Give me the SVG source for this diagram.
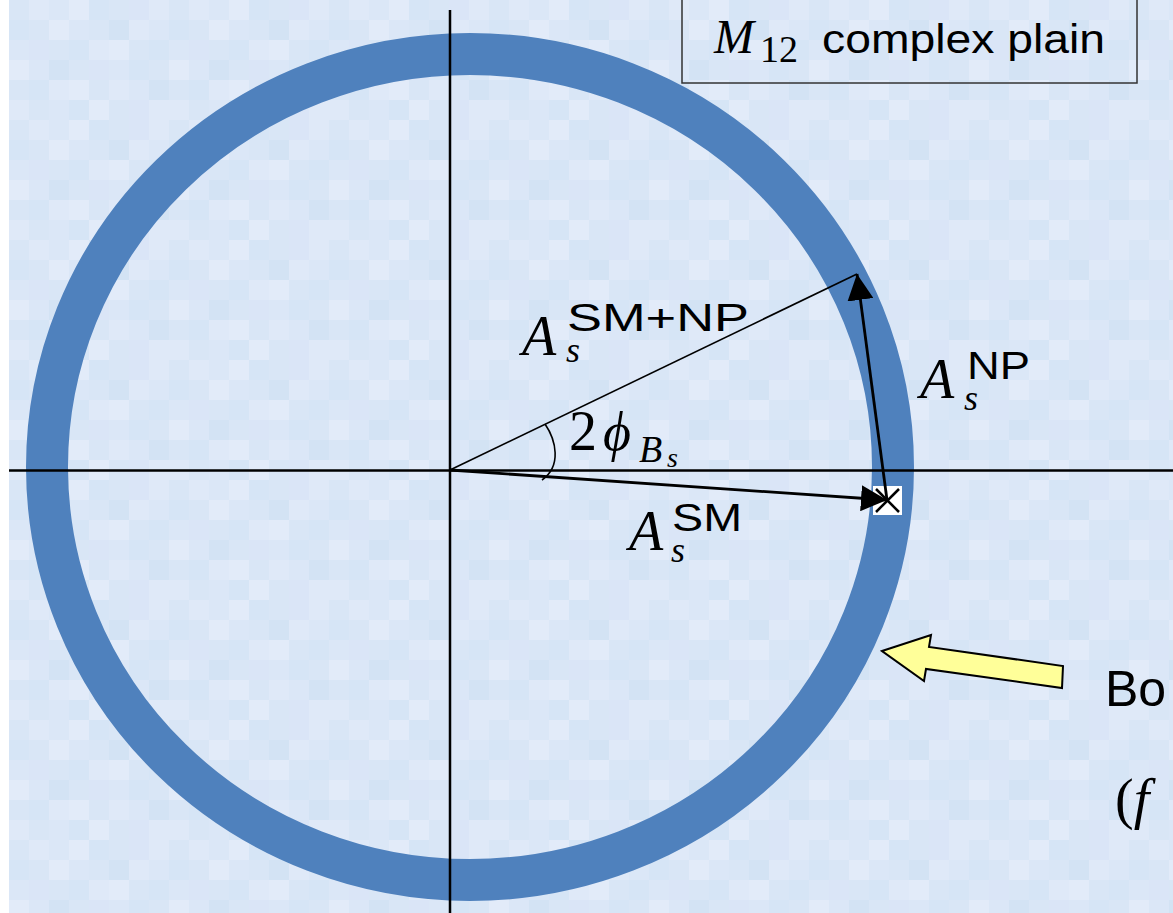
<svg xmlns="http://www.w3.org/2000/svg" width="1173" height="913" viewBox="0 0 1173 913">
<style>
.math{font-family:"Liberation Serif","DejaVu Serif",serif;font-style:italic;fill:#000}
.rm{font-family:"Liberation Serif","DejaVu Serif",serif;fill:#000}
.sf{font-family:"Liberation Sans","DejaVu Sans",sans-serif;font-style:normal;fill:#000}
.axis{stroke:#000;stroke-width:2.5;fill:none}
.thin{stroke:#000;stroke-width:1.6;fill:none}
.vec{stroke:#000;stroke-width:2.8;fill:none}
.b{fill:#dbe7f7}.c{fill:#dfe9f8}.d{fill:#d6e5f6}.e{fill:#e2ebf9}.f{fill:#d3e3f4}.g{fill:#dae5f7}
</style>
<defs>
<pattern id="mosaic" x="9" y="0" width="160" height="120" patternUnits="userSpaceOnUse">
<rect width="160" height="120" fill="#d9e6f6"/>
<rect class="c" x="20" y="0" width="20" height="20"/><rect class="b" x="40" y="0" width="20" height="20"/><rect class="e" x="60" y="0" width="20" height="20"/><rect class="d" x="80" y="0" width="20" height="20"/><rect class="g" x="120" y="0" width="20" height="20"/><rect class="c" x="140" y="0" width="20" height="20"/>
<rect class="d" x="0" y="20" width="20" height="20"/><rect class="e" x="40" y="20" width="20" height="20"/><rect class="b" x="60" y="20" width="20" height="20"/><rect class="f" x="100" y="20" width="20" height="20"/><rect class="c" x="120" y="20" width="20" height="20"/><rect class="b" x="140" y="20" width="20" height="20"/>
<rect class="b" x="0" y="40" width="20" height="20"/><rect class="g" x="20" y="40" width="20" height="20"/><rect class="d" x="60" y="40" width="20" height="20"/><rect class="c" x="80" y="40" width="20" height="20"/><rect class="e" x="100" y="40" width="20" height="20"/><rect class="d" x="140" y="40" width="20" height="20"/>
<rect class="e" x="0" y="60" width="20" height="20"/><rect class="b" x="20" y="60" width="20" height="20"/><rect class="f" x="40" y="60" width="20" height="20"/><rect class="g" x="80" y="60" width="20" height="20"/><rect class="b" x="100" y="60" width="20" height="20"/><rect class="d" x="120" y="60" width="20" height="20"/>
<rect class="d" x="20" y="80" width="20" height="20"/><rect class="c" x="40" y="80" width="20" height="20"/><rect class="e" x="60" y="80" width="20" height="20"/><rect class="c" x="100" y="80" width="20" height="20"/><rect class="b" x="120" y="80" width="20" height="20"/><rect class="f" x="140" y="80" width="20" height="20"/>
<rect class="c" x="0" y="100" width="20" height="20"/><rect class="b" x="40" y="100" width="20" height="20"/><rect class="d" x="60" y="100" width="20" height="20"/><rect class="e" x="80" y="100" width="20" height="20"/><rect class="g" x="120" y="100" width="20" height="20"/><rect class="c" x="140" y="100" width="20" height="20"/>
</pattern>
<marker id="head" viewBox="0 0 26 26" refX="26" refY="13" markerWidth="26" markerHeight="26" markerUnits="userSpaceOnUse" orient="auto">
<path d="M0,0 L26,13 L0,26 z" fill="#000"/>
</marker>
</defs>
<rect x="0" y="0" width="1173" height="913" fill="#ffffff"/>
<rect x="9" y="0" width="1164" height="913" fill="url(#mosaic)"/>

<g id="circle">
<ellipse cx="470" cy="467" rx="423" ry="413" fill="none" stroke="#4f81bd" stroke-width="42"/>
</g>

<g id="axes">
<line class="axis" x1="450" y1="10" x2="450" y2="913"/>
<line class="axis" x1="9" y1="470.5" x2="1173" y2="470.5" stroke-width="2"/>
</g>

<g id="sm-point">
<rect x="873" y="486" width="29" height="29" fill="#ffffff"/>
<line x1="876" y1="489" x2="899" y2="512" stroke="#000" stroke-width="2.5"/>
<line x1="899" y1="489" x2="876" y2="512" stroke="#000" stroke-width="2.5"/>
</g>

<g id="connectors">
<line class="thin" x1="450" y1="470" x2="857" y2="274"/>
<line class="vec" x1="450" y1="470" x2="887" y2="500" marker-end="url(#head)"/>
<line class="vec" x1="887" y1="500" x2="857" y2="274" marker-end="url(#head)"/>
<path class="thin" d="M545,424 C556,440 562,466 542,480"/>
</g>

<g id="label-box">
<rect x="682" y="-2" width="455" height="85" fill="none" stroke="#333" stroke-width="1.5"/>
<text class="math" font-size="48"><tspan x="714" y="53">M</tspan><tspan class="rm" font-style="normal" x="760" y="62" font-size="38">12</tspan><tspan class="sf" x="822" y="53" font-size="40" textLength="283" lengthAdjust="spacingAndGlyphs">complex plain</tspan></text>
</g>

<g id="label-smnp">
<text class="math" font-size="56"><tspan x="522" y="355">A</tspan><tspan x="566" y="362" font-size="36">s</tspan><tspan class="sf" x="567" y="331" font-size="38" textLength="182" lengthAdjust="spacingAndGlyphs">SM+NP</tspan></text>
</g>

<g id="label-angle">
<text class="rm" font-size="56"><tspan x="569" y="450">2</tspan><tspan class="math" x="603" y="450" font-size="54">ϕ</tspan><tspan class="math" x="639" y="462" font-size="38">B</tspan><tspan class="math" x="667" y="467" font-size="28">s</tspan></text>
</g>

<g id="label-sm">
<text class="math" font-size="56"><tspan x="629" y="550">A</tspan><tspan x="671" y="562" font-size="36">s</tspan><tspan class="sf" x="672" y="531" font-size="38" textLength="70" lengthAdjust="spacingAndGlyphs">SM</tspan></text>
</g>

<g id="label-np">
<text class="math" font-size="56"><tspan x="920" y="398">A</tspan><tspan x="964" y="410" font-size="36">s</tspan><tspan class="sf" x="967" y="379" font-size="38" textLength="63" lengthAdjust="spacingAndGlyphs">NP</tspan></text>
</g>

<g id="yellow-arrow">
<polygon points="882,651 931,635 929,647 1063,666 1062,688 926,669 924,681" fill="#ffff99" stroke="#000" stroke-width="2" stroke-linejoin="miter"/>
</g>

<g id="label-bound">
<text class="sf" x="1105" y="706" font-size="50">Bo</text>
<text class="rm" x="1115" y="818" font-size="56">(<tspan font-style="italic">f</tspan></text>
</g>
</svg>
